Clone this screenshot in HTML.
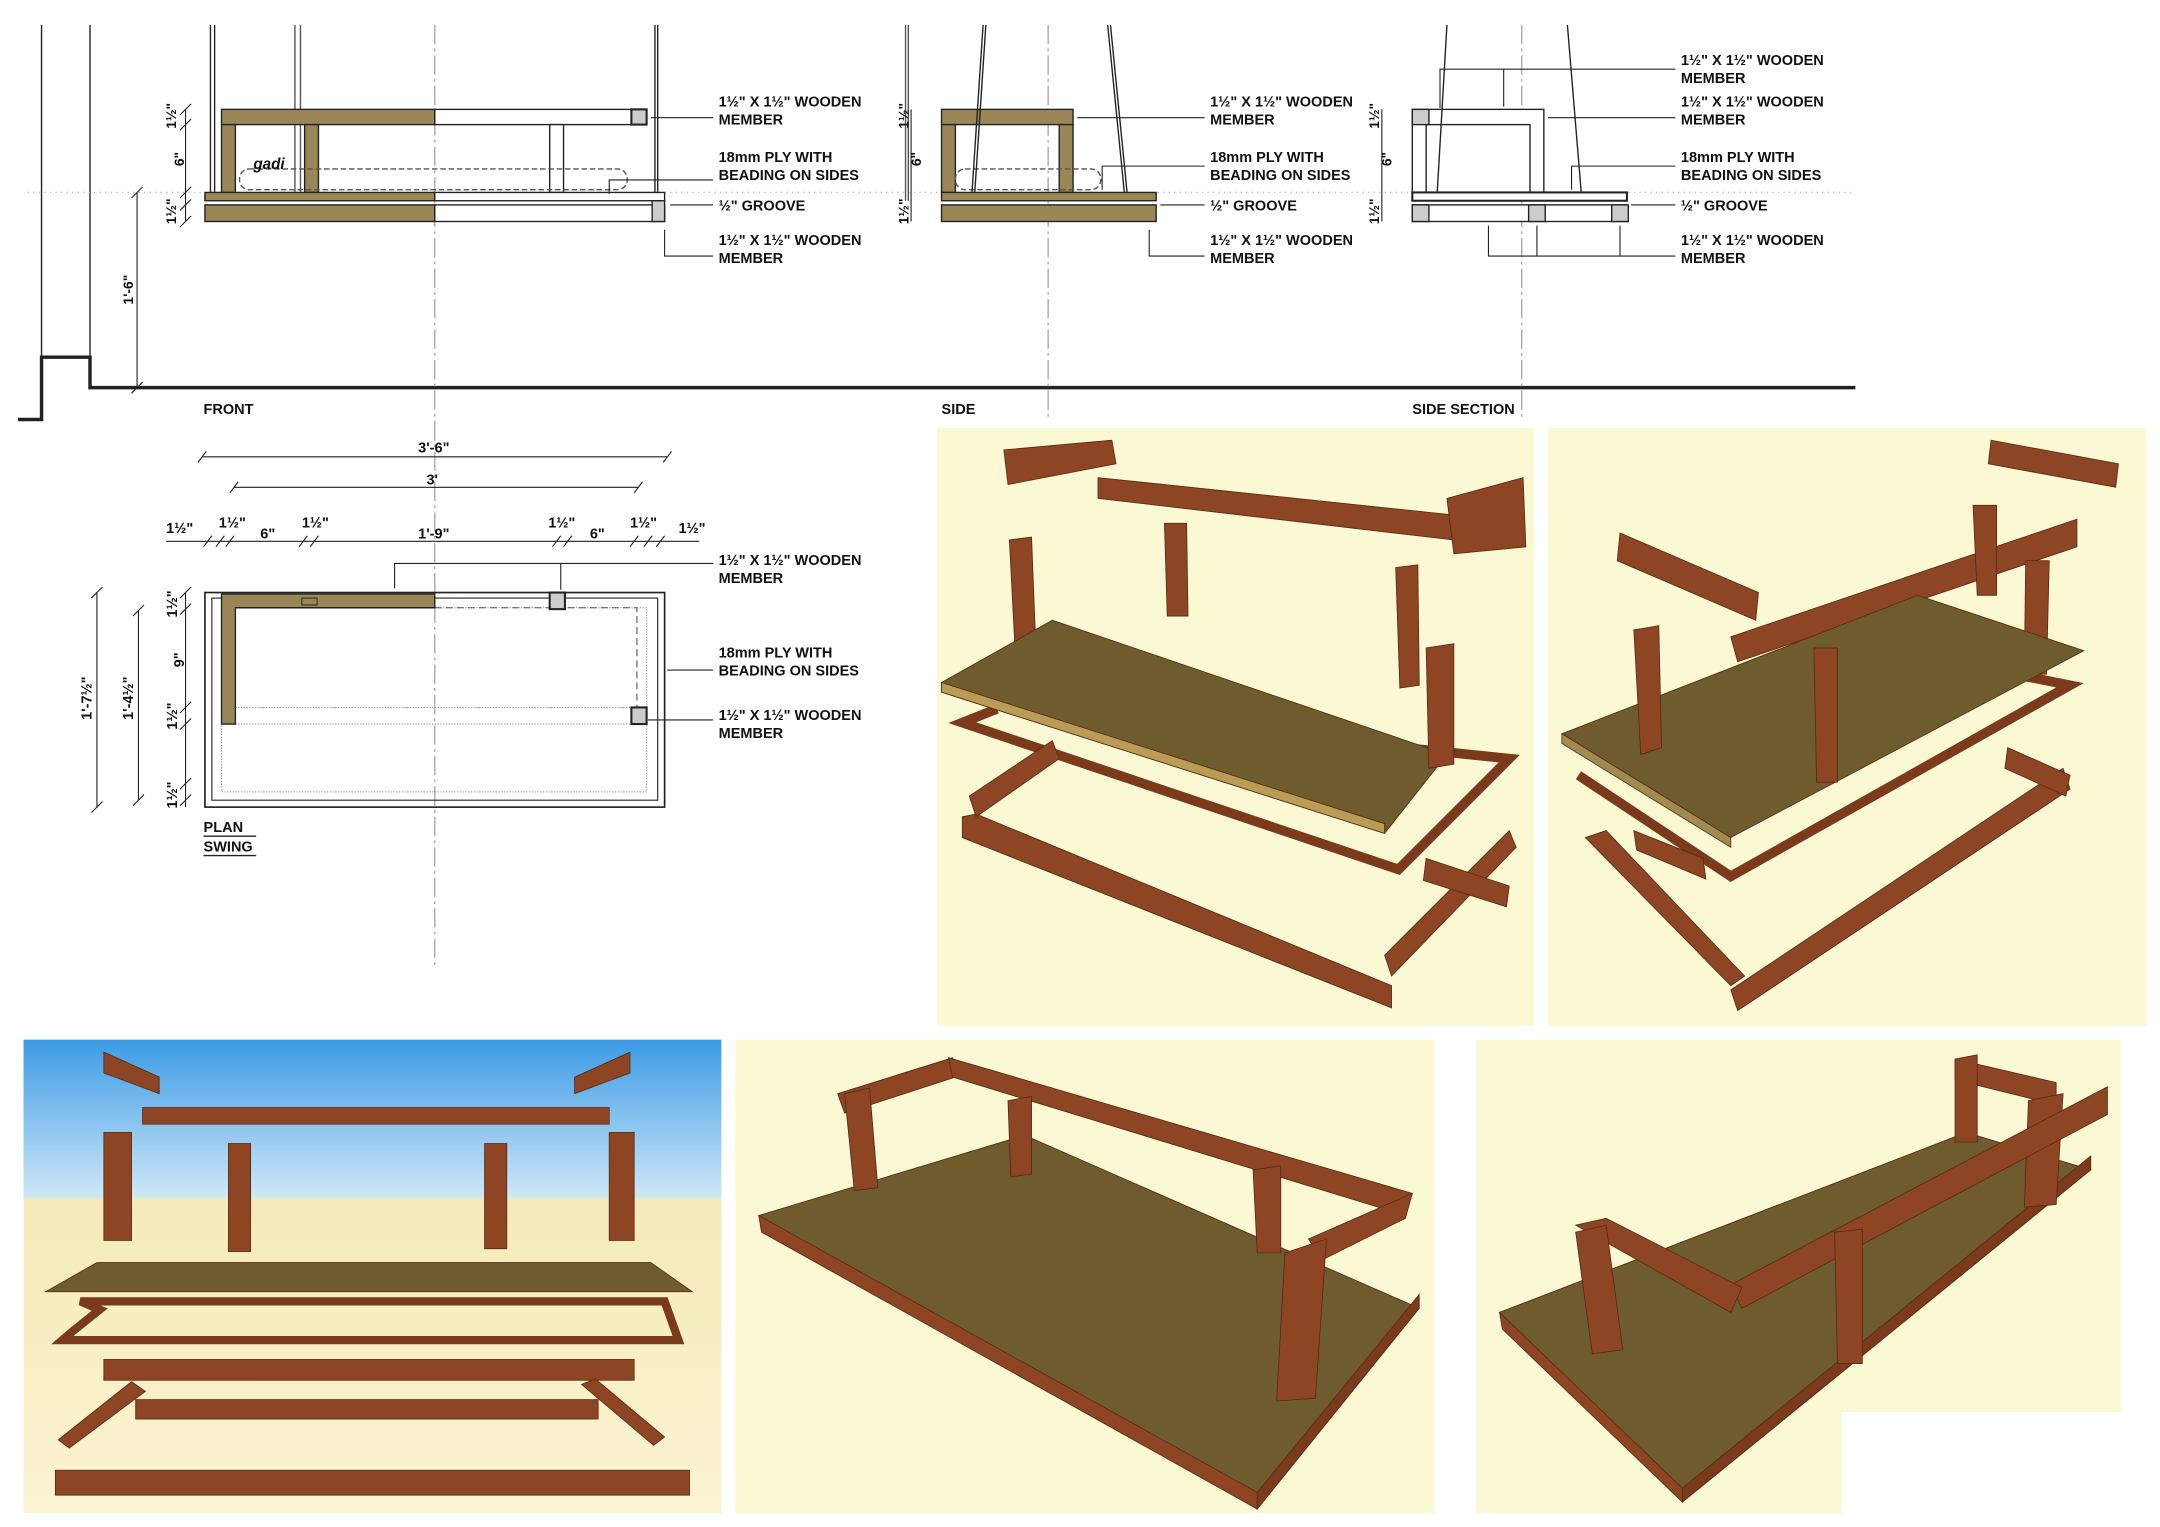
<!DOCTYPE html>
<html><head><meta charset="utf-8"><style>
html,body{margin:0;padding:0;background:#fff;}
svg{display:block;}
text{font-family:"Liberation Sans",sans-serif;font-weight:bold;fill:#111;}
</style></head><body>
<svg width="2160" height="1527" viewBox="0 0 1560 1103" preserveAspectRatio="none" xmlns="http://www.w3.org/2000/svg">
<defs>
<linearGradient id="sky" x1="0" y1="0" x2="0" y2="1">
<stop offset="0" stop-color="#3c9be6"/><stop offset="0.33" stop-color="#cde7f7"/><stop offset="0.34" stop-color="#f5eab8"/><stop offset="1" stop-color="#fbf4d2"/></linearGradient>
</defs>
<g fill="none" stroke="#222" stroke-width="1">
<!-- wall and floor -->
<path d="M30 18V258M65 18V258" stroke-width="1"/>
<path d="M13 303H30V258H65V280H1340" stroke-width="2.5"/>
<path d="M314 18V700M757 18V303M1099 18V303" stroke="#aaa" stroke-dasharray="14,3,2,3"/>
<path d="M20 139H1340" stroke="#bbb" stroke-dasharray="1,3"/>
<!-- FRONT -->
<path d="M213 18V139M217 18V139M654 18V145M656 18V145" stroke="#555" transform="translate(-0,0)"/>
</g>
<g stroke="#222" stroke-width="1">
<line x1="152" y1="18" x2="152" y2="139"/><line x1="155" y1="18" x2="155" y2="139"/>
<line x1="473" y1="18" x2="473" y2="145"/><line x1="475" y1="18" x2="475" y2="145"/>
<rect x="160" y="79" width="154" height="11" fill="#9b8657"/>
<rect x="314" y="79" width="153" height="11" fill="#fff"/>
<rect x="160" y="90" width="10" height="49" fill="#9b8657"/>
<rect x="220" y="90" width="10" height="49" fill="#9b8657"/>
<rect x="397" y="90" width="10" height="49" fill="#fff"/>
<rect x="456" y="79" width="11" height="11" fill="#ccc" stroke-width="1.5"/>
<rect x="173" y="122" width="280" height="15" rx="7" fill="none" stroke-dasharray="4,2" stroke="#555"/>
<rect x="148" y="139" width="166" height="6" fill="#9b8657"/>
<rect x="314" y="139" width="166" height="6" fill="#fff"/>
<rect x="148" y="148" width="166" height="12" fill="#9b8657"/>
<rect x="314" y="148" width="166" height="12" fill="#fff"/>
<rect x="471" y="145" width="9" height="15" fill="#ccc"/>
<!-- SIDE -->
<rect x="680" y="79" width="95" height="11" fill="#9b8657"/>
<rect x="680" y="90" width="10" height="49" fill="#9b8657"/>
<rect x="765" y="90" width="10" height="49" fill="#9b8657"/>
<rect x="680" y="139" width="155" height="6" fill="#9b8657"/>
<rect x="680" y="148" width="155" height="12" fill="#9b8657"/>
<rect x="690" y="122" width="105" height="15" rx="7" fill="none" stroke-dasharray="4,2" stroke="#555"/>
<line x1="712" y1="18" x2="704" y2="139"/><line x1="710" y1="18" x2="702" y2="139"/>
<line x1="800" y1="18" x2="812" y2="139"/><line x1="802" y1="18" x2="814" y2="139"/>
<!-- SIDE SECTION -->
<rect x="1020" y="79" width="95" height="60" fill="#fff"/>
<rect x="1030" y="90" width="75" height="49" fill="#fff"/>
<rect x="1020" y="79" width="12" height="11" fill="#ccc"/>
<rect x="1020" y="139" width="155" height="6" fill="#fff" stroke-width="1.5"/>
<rect x="1020" y="148" width="155" height="12" fill="#fff"/>
<rect x="1020" y="148" width="12" height="12" fill="#ccc"/>
<rect x="1104" y="148" width="12" height="12" fill="#ccc"/>
<rect x="1164" y="148" width="12" height="12" fill="#ccc"/>
<line x1="1045" y1="18" x2="1038" y2="139"/><line x1="1132" y1="18" x2="1142" y2="139"/>
</g>
<!-- leaders -->
<g stroke="#222" stroke-width="0.8" fill="none">
<path d="M515 85H470M515 130H440V140M515 148H484M515 185H480V166"/>
<path d="M870 85H778M870 120H796V137M870 148H838M870 185H830V166"/>
<path d="M1210 50H1040V78M1086 50V77M1210 85H1118M1210 120H1135V137M1210 148H1178M1210 185H1075V163M1110 185V163M1170 185V163"/>
</g>
<g font-size="10.5">
<text x="519" y="77">1½" X 1½" WOODEN</text><text x="519" y="90">MEMBER</text>
<text x="519" y="117">18mm PLY WITH</text><text x="519" y="130">BEADING ON SIDES</text>
<text x="519" y="152">½" GROOVE</text>
<text x="519" y="177">1½" X 1½" WOODEN</text><text x="519" y="190">MEMBER</text>
<text x="874" y="77">1½" X 1½" WOODEN</text><text x="874" y="90">MEMBER</text>
<text x="874" y="117">18mm PLY WITH</text><text x="874" y="130">BEADING ON SIDES</text>
<text x="874" y="152">½" GROOVE</text>
<text x="874" y="177">1½" X 1½" WOODEN</text><text x="874" y="190">MEMBER</text>
<text x="1214" y="47">1½" X 1½" WOODEN</text><text x="1214" y="60">MEMBER</text>
<text x="1214" y="77">1½" X 1½" WOODEN</text><text x="1214" y="90">MEMBER</text>
<text x="1214" y="117">18mm PLY WITH</text><text x="1214" y="130">BEADING ON SIDES</text>
<text x="1214" y="152">½" GROOVE</text>
<text x="1214" y="177">1½" X 1½" WOODEN</text><text x="1214" y="190">MEMBER</text>
<text x="147" y="299">FRONT</text><text x="680" y="299">SIDE</text><text x="1020" y="299">SIDE SECTION</text>
<text x="183" y="122" font-style="italic" font-size="11">gadi</text>
</g>
<!-- vertical dims front -->
<g stroke="#222" stroke-width="0.8">
<path d="M134 79V160M99 139V280M658 79V160M998 79V160"/>
<path d="M130 83l8-8M130 94l8-8M130 143l8-8M130 152l8-8M130 164l8-8M95 143l8-8M95 284l8-8"/>
</g>
<g font-size="10">
<text transform="translate(127,93) rotate(-90)">1½"</text>
<text transform="translate(133,120) rotate(-90)">6"</text>
<text transform="translate(127,162) rotate(-90)">1½"</text>
<text transform="translate(96,220) rotate(-90)">1'-6"</text>
<text transform="translate(656,93) rotate(-90)">1½"</text>
<text transform="translate(665,120) rotate(-90)">6"</text>
<text transform="translate(656,162) rotate(-90)">1½"</text>
<text transform="translate(996,93) rotate(-90)">1½"</text>
<text transform="translate(1005,120) rotate(-90)">6"</text>
<text transform="translate(996,162) rotate(-90)">1½"</text>
</g>
<!-- PLAN -->
<g stroke="#222" stroke-width="0.8" fill="none">
<path d="M146 330H482M169 352H461M120 391H505"/>
<path d="M143 334l6-8M479 334l6-8M166 356l6-8M458 356l6-8M147 395l6-8M156 395l6-8M163 395l6-8M216 395l6-8M224 395l6-8M399 395l6-8M407 395l6-8M455 395l6-8M465 395l6-8M474 395l6-8"/>
<path d="M70 428V583M100 441V578M134 428V583M66 432l8-8M66 587l8-8M96 445l8-8M96 582l8-8M130 432l8-8M130 444l8-8M130 515l8-8M130 527l8-8M130 570l8-8M130 582l8-8"/>
<rect x="148" y="428" width="332" height="155" stroke-width="1.2"/>
<rect x="153" y="432" width="322" height="146"/>
<rect x="160" y="439" width="307" height="133" stroke="#999" stroke-dasharray="1,1"/>
<path d="M314 439H460V511" stroke-dasharray="5,3" stroke="#555"/>
<path d="M170 511H456M170 523H456" stroke="#999" stroke-dasharray="1,1"/>
<path d="M515 407H285V425M405 407V426M515 484H482M515 520H468"/>
</g>
<path d="M160 429H314V439H170V523H160Z" fill="#9b8657" stroke="#222"/>
<rect x="218" y="432" width="11" height="5" fill="none" stroke="#222" stroke-width="0.7"/>
<rect x="397" y="428" width="11" height="12" fill="#ccc" stroke="#222" stroke-width="1.5"/>
<rect x="456" y="511" width="11" height="12" fill="#ccc" stroke="#222" stroke-width="1.5"/>
<g font-size="10.5">
<text x="302" y="327">3'-6"</text><text x="308" y="350">3'</text>
<text x="120" y="385">1½"</text><text x="158" y="381">1½"</text><text x="188" y="389">6"</text><text x="218" y="381">1½"</text>
<text x="302" y="389">1'-9"</text><text x="396" y="381">1½"</text><text x="426" y="389">6"</text><text x="455" y="381">1½"</text><text x="490" y="385">1½"</text>
<text x="519" y="408">1½" X 1½" WOODEN</text><text x="519" y="421">MEMBER</text>
<text x="519" y="475">18mm PLY WITH</text><text x="519" y="488">BEADING ON SIDES</text>
<text x="519" y="520">1½" X 1½" WOODEN</text><text x="519" y="533">MEMBER</text>
<text x="147" y="601">PLAN</text><text x="147" y="615">SWING</text>
<text transform="translate(66,520) rotate(-90)">1'-7½"</text>
<text transform="translate(96,520) rotate(-90)">1'-4½"</text>
<text transform="translate(128,446) rotate(-90)">1½"</text>
<text transform="translate(133,482) rotate(-90)">9"</text>
<text transform="translate(128,527) rotate(-90)">1½"</text>
<text transform="translate(128,584) rotate(-90)">1½"</text>
</g>
<line x1="147" y1="604" x2="185" y2="604" stroke="#222"/><line x1="147" y1="618" x2="185" y2="618" stroke="#222"/>

<!-- 3D panels -->
<rect x="677" y="309" width="431" height="432" fill="#fbf9d4"/>
<rect x="1118" y="309" width="432" height="432" fill="#fbf9d4"/>
<rect x="17" y="751" width="504" height="342" fill="url(#sky)"/>
<rect x="531" y="751" width="505" height="342" fill="#fbf9d4"/>
<rect x="1066" y="751" width="466" height="342" fill="#fbf9d4"/>
<rect x="1330" y="1020" width="60" height="73" fill="#fff"/>
<rect x="1390" y="1020" width="142" height="73" fill="#fff"/>

<g fill="#8d4524" stroke="#5a2a14" stroke-width="0.6">
<!-- panel A -->
<polygon points="725,325 803,318 806,335 728,350"/>
<polygon points="793,345 1050,372 1050,390 793,360"/>
<polygon points="1045,360 1100,345 1102,395 1050,400"/>
<polygon points="729,390 745,388 748,465 733,467"/>
<polygon points="841,378 857,378 858,445 843,445"/>
<polygon points="1008,410 1024,408 1025,495 1011,497"/>
<polyline points="720,512 695,522 1010,628 1090,548 820,520" fill="none" stroke="#7b3a1c" stroke-width="7"/>
<polygon points="680,493 760,448 1045,545 1000,602 680,500" fill="#6e5b2e"/>
<polygon points="680,493 1000,595 1000,602 680,500" fill="#b99c55"/>
<polygon points="1030,468 1050,465 1050,552 1032,555"/>
<polygon points="695,590 705,588 1005,712 1005,728 695,605"/>
<polygon points="700,575 760,535 765,548 705,590"/>
<polygon points="1000,690 1090,600 1095,612 1005,705"/>
<polygon points="1030,620 1090,640 1088,655 1028,636"/>
<!-- panel B -->
<polygon points="1438,318 1530,335 1528,352 1436,335"/>
<polygon points="1170,385 1270,428 1268,448 1168,405"/>
<polygon points="1250,460 1500,375 1500,395 1255,478"/>
<polygon points="1425,365 1442,365 1442,430 1428,430"/>
<polygon points="1463,405 1480,405 1478,487 1462,487"/>
<polyline points="1140,560 1250,633 1495,495 1370,470" fill="none" stroke="#7b3a1c" stroke-width="7"/>
<polygon points="1128,530 1385,430 1505,470 1250,605" fill="#6e5b2e"/>
<polygon points="1128,530 1250,605 1250,612 1128,537" fill="#a08c50"/>
<polygon points="1180,455 1198,452 1200,540 1185,545"/>
<polygon points="1310,468 1327,468 1327,565 1312,565"/>
<polygon points="1145,605 1160,600 1260,705 1250,712"/>
<polygon points="1250,715 1490,555 1495,570 1255,730"/>
<polygon points="1180,600 1230,620 1232,635 1182,614"/>
<polygon points="1450,540 1495,560 1492,575 1448,555"/>
<!-- panel C -->
<polygon points="75,760 115,778 115,790 75,775"/>
<polygon points="415,778 455,760 455,775 415,790"/>
<rect x="103" y="800" width="337" height="12"/>
<rect x="75" y="818" width="20" height="78"/>
<rect x="165" y="826" width="16" height="78"/>
<rect x="350" y="826" width="16" height="76"/>
<rect x="440" y="818" width="18" height="78"/>
<polygon points="70,912 470,912 500,933 33,933" fill="#6e5b2e"/>
<polygon points="58,940 480,940 490,968 45,968 52,962 72,946" fill="none" stroke="#7b3a1c" stroke-width="6"/>
<rect x="75" y="982" width="383" height="15"/>
<rect x="98" y="1011" width="334" height="14"/>
<polygon points="42,1040 95,998 105,1005 50,1046"/>
<polygon points="420,1000 430,996 480,1038 472,1044"/>
<rect x="40" y="1062" width="458" height="18"/>
<!-- panel D -->
<polygon points="548,878 740,820 1025,945 908,1090" fill="#6e5b2e"/>
<polygon points="548,878 908,1078 908,1090 550,890" fill="#8d4524"/>
<polygon points="908,1078 1025,935 1025,945 908,1090" fill="#7b3a1c"/>
<polygon points="605,790 688,764 690,778 610,804"/>
<polygon points="685,764 1020,862 1015,878 688,778"/>
<polygon points="610,790 628,786 634,858 617,860"/>
<polygon points="728,795 745,792 745,848 730,850"/>
<polygon points="905,845 925,842 925,905 908,905"/>
<polygon points="945,895 1020,862 1015,880 955,910"/>
<polygon points="928,905 958,895 950,1010 922,1012"/>
<!-- panel E -->
<polygon points="1083,948 1420,818 1510,845 1215,1085" fill="#6e5b2e"/>
<polygon points="1083,948 1215,1075 1215,1085 1085,960"/>
<polygon points="1215,1075 1510,835 1510,845 1215,1085" fill="#7b3a1c"/>
<polygon points="1412,765 1485,782 1485,798 1412,780"/>
<polygon points="1412,765 1428,762 1428,825 1412,825"/>
<polygon points="1465,795 1490,790 1485,870 1462,872"/>
<polygon points="1250,928 1522,785 1522,805 1258,945"/>
<polygon points="1138,885 1160,880 1258,930 1250,948"/>
<polygon points="1138,890 1160,885 1172,975 1150,978"/>
<polygon points="1325,890 1345,888 1345,985 1327,985"/>
</g>
</svg>
</body></html>
